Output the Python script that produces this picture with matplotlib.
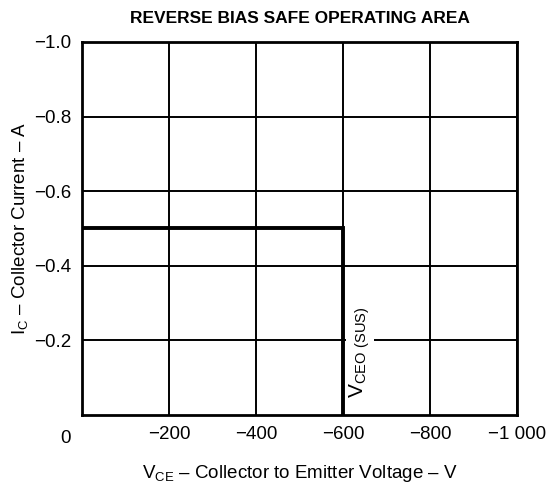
import matplotlib
matplotlib.use("Agg")
import matplotlib.pyplot as plt

# data
x_ticks = [-200, -400, -600, -800, -1000]
x_labels = ["\u2212200", "\u2212400", "\u2212600", "\u2212800", "\u22121 000"]
y_ticks = [-0.2, -0.4, -0.6, -0.8, -1.0]
y_labels = ["\u22120.2", "\u22120.4", "\u22120.6", "\u22120.8", "\u22121.0"]

# RBSOA boundary
soa_v = [0, -600, -600]
soa_i = [-0.5, -0.5, 0]
vceo_sus = -600

DASH = "\u2013"

plt.rcParams['font.family'] = ['Liberation Sans', 'DejaVu Sans']
plt.rcParams['mathtext.fontset'] = 'custom'
plt.rcParams['mathtext.rm'] = 'Liberation Sans'

fig = plt.figure(figsize=(5.52, 4.86), dpi=100)
ax = fig.add_axes([0.1486, 0.1461, 0.7880, 0.7675])

ax.set_xlim(0, -1000)
ax.set_ylim(0, -1.0)

ax.set_xticks(x_ticks)
ax.set_xticklabels(x_labels)
ax.set_yticks(y_ticks)
ax.set_yticklabels(y_labels)
ax.tick_params(length=0, labelsize=13.5, pad=8)

ax.grid(True, color='black', linewidth=1.4)
for s in ax.spines.values():
    s.set_linewidth(2.0)

ax.plot(soa_v, soa_i, color='black', linewidth=2.8, solid_joinstyle='miter', zorder=5)

# origin label shared by both axes
ax.text(-0.025, -0.04, "0", transform=ax.transAxes, ha='right', va='top', fontsize=13.5)

ax.text(vceo_sus - 10, -0.045, r"V$_{\mathregular{CEO\ (SUS)}}$", rotation=90,
        ha='left', va='bottom', fontsize=15, zorder=4,
        bbox=dict(facecolor='white', edgecolor='none', pad=1))

ax.set_title("REVERSE BIAS SAFE OPERATING AREA", fontsize=12.5, fontweight='bold', pad=14)
ax.set_xlabel(r"V$_{\mathregular{CE}}$ " + DASH + " Collector to Emitter Voltage " + DASH + " V",
              fontsize=13.5, labelpad=14)
ax.set_ylabel(r"I$_{\mathregular{C}}$ " + DASH + " Collector Current " + DASH + " A",
              fontsize=13.5, labelpad=2)

fig.savefig("out.png", dpi=100)
